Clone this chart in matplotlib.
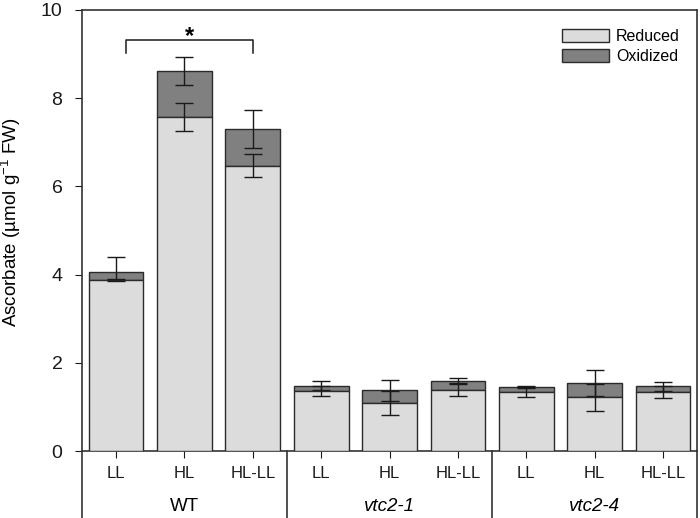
import matplotlib.pyplot as plt
import matplotlib.transforms as mtransforms
from matplotlib.patches import Patch

plt.rcParams['font.family'] = ['Liberation Sans', 'DejaVu Sans']
plt.rcParams['mathtext.fontset'] = 'custom'
plt.rcParams['mathtext.rm'] = 'Liberation Sans'
plt.rcParams['mathtext.default'] = 'regular'

conditions = ['LL', 'HL', 'HL-LL', 'LL', 'HL', 'HL-LL', 'LL', 'HL', 'HL-LL']
genotypes = ['WT', 'vtc2-1', 'vtc2-4']
reduced = [3.87, 7.58, 6.47, 1.36, 1.10, 1.39, 1.34, 1.22, 1.34]
oxidized = [0.18, 1.04, 0.82, 0.12, 0.28, 0.20, 0.12, 0.32, 0.13]
reduced_err = [0.02, 0.32, 0.26, 0.11, 0.27, 0.15, 0.11, 0.31, 0.13]
total_err = [0.36, 0.32, 0.43, 0.10, 0.24, 0.07, 0.02, 0.29, 0.10]

x = list(range(len(conditions)))
total = [r + o for r, o in zip(reduced, oxidized)]

fig = plt.figure(figsize=(7, 5.18), dpi=100)
ax = fig.add_axes([0.117, 0.129, 0.879, 0.852])

edge = '#2b2b2b'
ax.bar(x, oxidized, bottom=reduced, width=0.8, color='#808080',
       edgecolor=edge, linewidth=1, zorder=2)
ax.errorbar(x, total, yerr=total_err, fmt='none', ecolor='#1a1a1a',
            elinewidth=1, capsize=6.5, capthick=1, zorder=3)
ax.bar(x, reduced, width=0.8, color='#dcdcdc', edgecolor=edge,
       linewidth=1, zorder=4)
ax.errorbar(x, reduced, yerr=reduced_err, fmt='none', ecolor='#1a1a1a',
            elinewidth=1, capsize=6.5, capthick=1, zorder=5)

ax.set_xlim(-0.5, 8.5)
ax.set_ylim(0, 10)
ax.set_yticks([0, 2, 4, 6, 8, 10])
ax.tick_params(axis='y', direction='out', length=5, pad=9, labelsize=14, colors='#1a1a1a')
ax.set_xticks(x)
ax.set_xticklabels(conditions)
ax.tick_params(axis='x', direction='out', length=5, pad=6, labelsize=12, colors='#1a1a1a')
for s in ax.spines.values():
    s.set_color('#333333')
    s.set_linewidth(1.2)

ax.set_ylabel('Ascorbate (µmol g$^{-1}$ FW)', fontsize=13.5, labelpad=9)
ax.yaxis.set_label_coords(-0.095, 0.52)

# group labels and separators under the axis
trans = mtransforms.blended_transform_factory(ax.transData, ax.transAxes)
for sep in [-0.5, 2.5, 5.5, 8.5]:
    ax.plot([sep, sep], [0, -0.155], transform=trans, color='#333333',
            linewidth=1.2, clip_on=False)
for i, g in enumerate(genotypes):
    style = 'normal' if g == 'WT' else 'italic'
    ax.text(3 * i + 1, -0.125, g, transform=trans, ha='center', va='center',
            fontsize=13.5, fontstyle=style)

# significance bracket
ax.plot([0.14, 0.14, 2.0, 2.0], [9.02, 9.31, 9.31, 9.02], color='#1a1a1a', linewidth=1.1)
ax.text(1.07, 9.4, '*', ha='center', va='center', fontsize=17, fontweight='bold')

handles = [Patch(facecolor='#dcdcdc', edgecolor=edge, label='Reduced'),
           Patch(facecolor='#808080', edgecolor=edge, label='Oxidized')]
ax.legend(handles=handles, loc='upper right', frameon=False, fontsize=11.5,
          handlelength=2.9, handleheight=0.9, handletextpad=0.45,
          labelspacing=0.3, bbox_to_anchor=(0.995, 0.99))

fig.savefig('out.png', dpi=100)
